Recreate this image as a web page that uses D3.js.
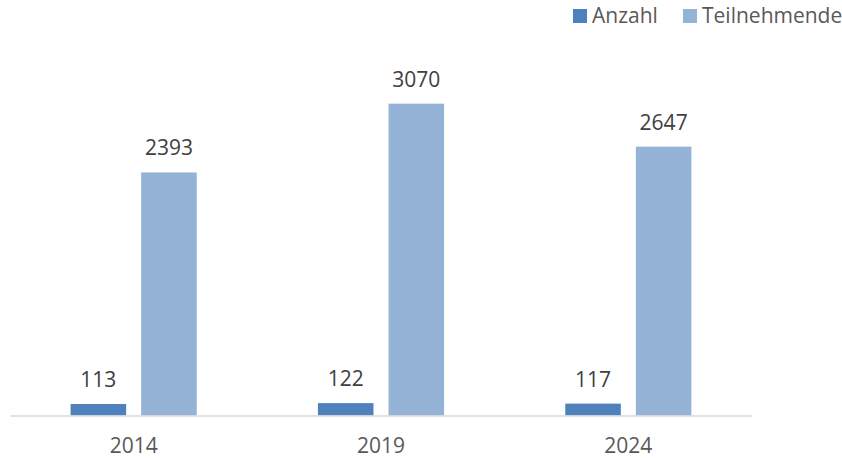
<!DOCTYPE html>
<html>
<head>
<meta charset="utf-8">
<script src="https://cdn.jsdelivr.net/npm/d3@7"></script>
<style>
  body { margin: 0; background: #fff; }
  text { font-family: "Open Sans", sans-serif; }
</style>
</head>
<body>
<div id="chart"></div>
<script>
const years = ["2014", "2019", "2024"];
const seriesNames = ["Anzahl", "Teilnehmende"];
const anzahl = [113, 122, 117];
const teilnehmende = [2393, 3070, 2647];
const seriesColors = ["#4f81bd", "#95b3d7"];

const margins = {top: 60, right: 90, bottom: 43, left: 10, width: 842, height: 458};

const svg = d3.select('#chart')
    .append('svg')
    .attr('width', margins.width)
    .attr('height', margins.height);

const baseline = margins.height - margins.bottom + 0.5;

const xScale = d3.scaleBand()
    .domain(years)
    .range([margins.left, margins.width - margins.right])
    .paddingInner(0.49)
    .paddingOuter(0.245);

const xInner = d3.scaleBand()
    .domain(seriesNames)
    .range([0, xScale.bandwidth()])
    .paddingInner(0.213);

const yScale = d3.scaleLinear()
    .domain([0, 3500])
    .range([baseline, margins.top]);

const values = {"Anzahl": anzahl, "Teilnehmende": teilnehmende};
const color = d3.scaleOrdinal().domain(seriesNames).range(seriesColors);

const rows = [];
years.forEach((y, i) => {
    seriesNames.forEach(s => rows.push({year: y, series: s, value: values[s][i]}));
});

// bars
svg.append("g")
    .selectAll("rect")
    .data(rows)
    .enter().append("rect")
    .attr("x", d => xScale(d.year) + xInner(d.series))
    .attr("y", d => yScale(d.value))
    .attr("width", xInner.bandwidth())
    .attr("height", d => baseline - yScale(d.value))
    .attr("fill", d => color(d.series));

// value labels
svg.append("g")
    .selectAll("text")
    .data(rows)
    .enter().append("text")
    .attr("x", d => xScale(d.year) + xInner(d.series) + xInner.bandwidth() / 2)
    .attr("y", d => yScale(d.value) - 17)
    .attr("text-anchor", "middle")
    .style("font-size", "21px")
    .style("fill", "#404040")
    .text(d => d.value);

// x axis
const xAxis = svg.append("g")
    .attr("transform", "translate(0," + baseline + ")")
    .call(d3.axisBottom(xScale).tickSize(0).tickPadding(23));
xAxis.select(".domain")
    .attr("stroke", "#d9d9d9")
    .attr("stroke-width", 1.5);
xAxis.selectAll("text")
    .style("font-size", "21px")
    .style("font-family", "'Open Sans', sans-serif")
    .style("fill", "#595959");

// legend
const legendX = [573, 683];
const legend = svg.append("g")
    .selectAll("g")
    .data(seriesNames)
    .enter().append("g")
    .attr("transform", (d, i) => "translate(" + legendX[i] + ",9)");
legend.append("rect")
    .attr("width", 14)
    .attr("height", 14)
    .attr("fill", d => color(d));
legend.append("text")
    .attr("x", 19)
    .attr("y", 14)
    .style("font-size", "21px")
    .style("fill", "#595959")
    .text(d => d);
</script>
</body>
</html>
